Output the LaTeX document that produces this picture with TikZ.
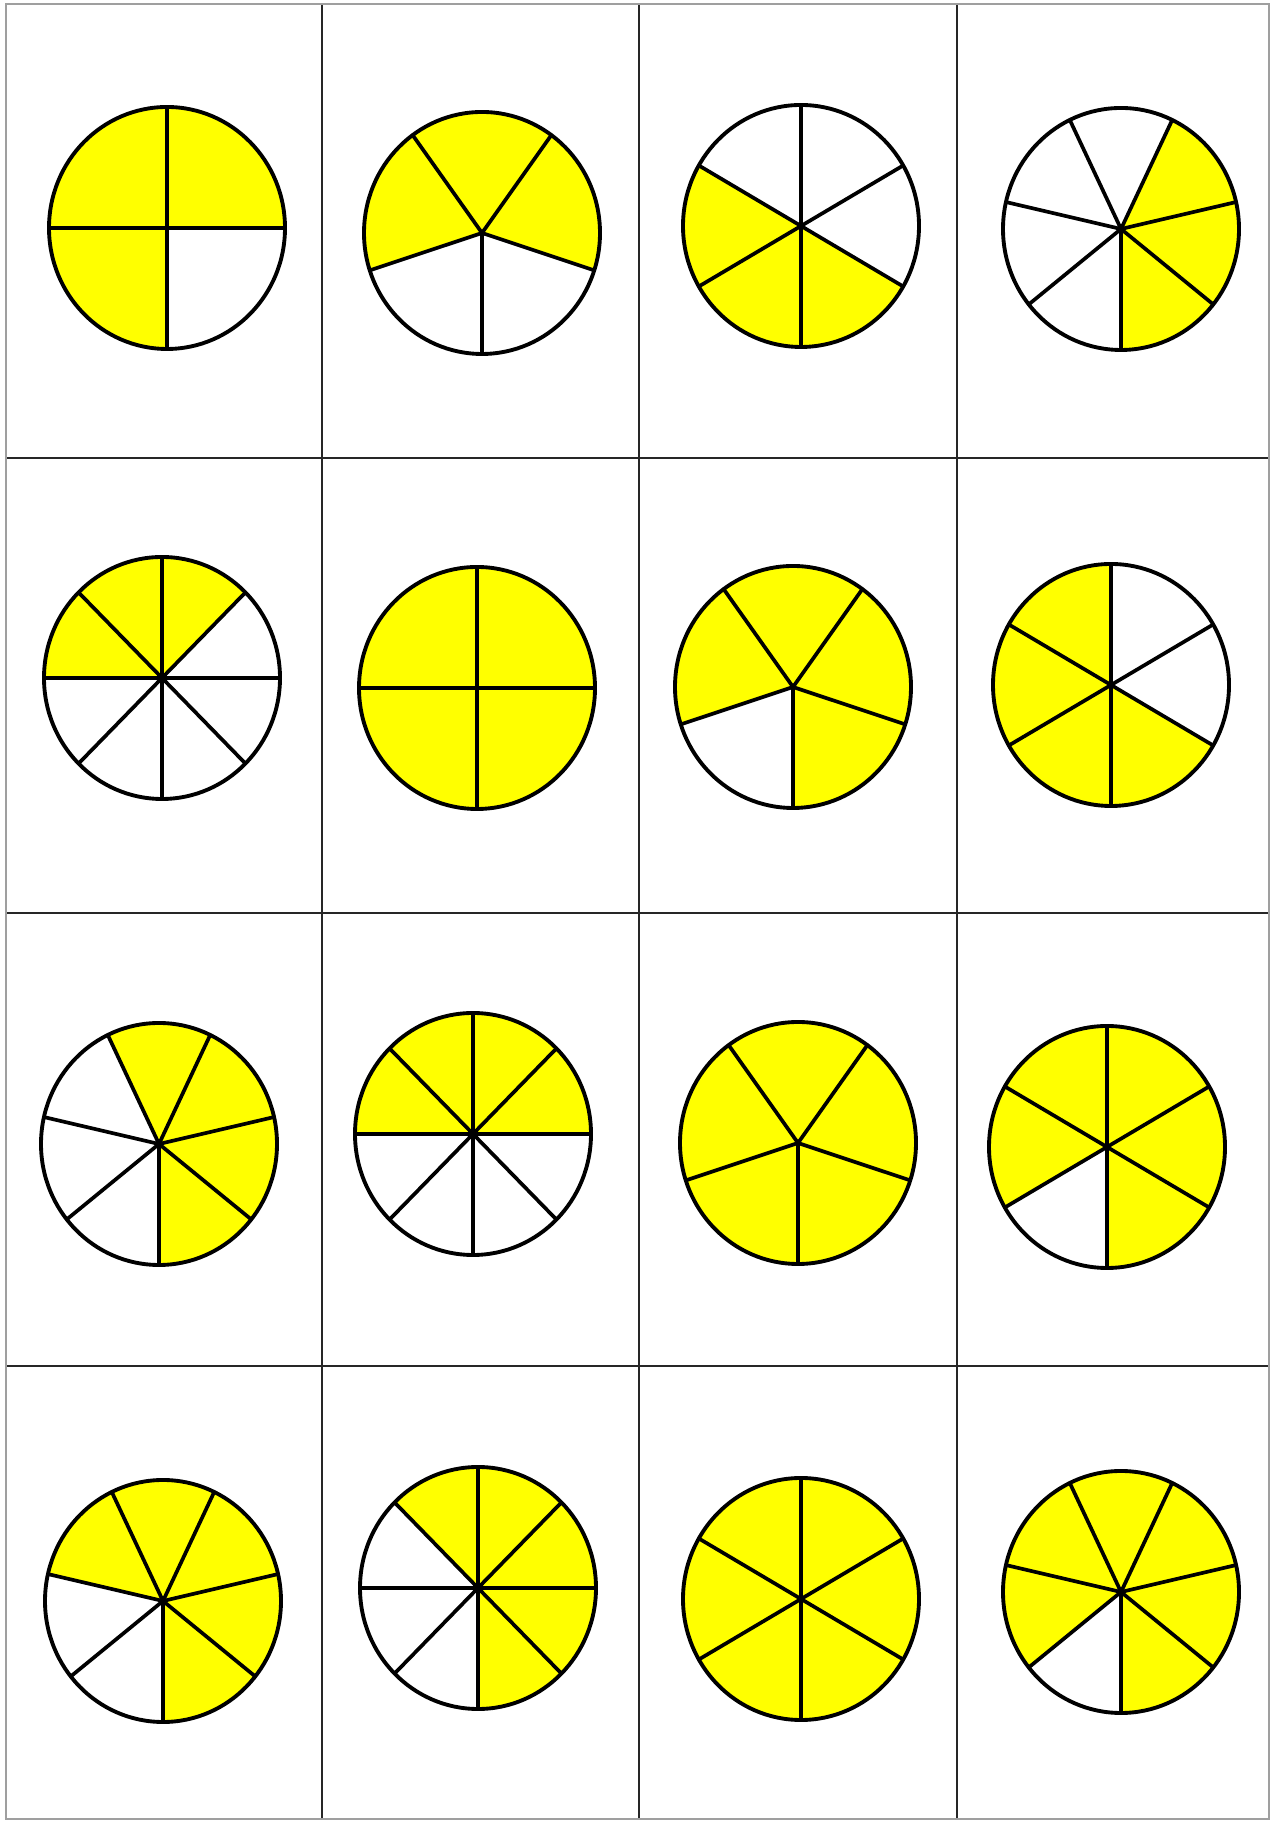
\documentclass[tikz,border=0pt]{standalone}
\definecolor{sliceyellow}{RGB}{255,255,0}
\begin{document}
\begin{tikzpicture}[
    x=0.02cm, y=0.02cm,
    frame/.style={line width=1.5pt, gray!75},
    gridline/.style={line width=1.2pt, black!85},
    rim/.style={line width=2.2pt, black},
    spoke/.style={line width=2.1pt, black, line cap=round},
    shaded/.style={fill=sliceyellow},
    ]

    \useasboundingbox (0,0) rectangle (1272,1821);

    \foreach \x in {322,639,957}{
    \draw[gridline] (\x,2) -- (\x,1817);
    }
    \foreach \y in {455,908,1363}{
    \draw[gridline] (6,\y) -- (1269,\y);
    }
    \draw[frame] (6,2) rectangle (1269,1817);

    \foreach \cx/\cy/\n/\first/\cnt in {
        167/1593/4/1/3, 482/1588/5/1/3, 801/1595/6/4/3, 1121/1592/7/0/3,
        162/1143/8/3/3, 477/1133/4/0/4, 793/1134/5/0/4, 1111/1136/6/3/4,
        159/677/7/0/4, 473/687/8/2/4, 798/678/5/0/5, 1107/674/6/0/5,
        163/220/7/0/5, 478/233/8/0/5, 801/222/6/0/6, 1121/229/7/0/6}{
    \coordinate (centre) at (\cx,\cy);
    \foreach \k in {1,...,\cnt}{
        \pgfmathsetmacro\a{270+(\first+\k-1)*360/\n}
        \fill[shaded] (centre) -- ++(\a:118 and 121)
            arc[start angle=\a, delta angle=360/\n, x radius=118, y radius=121]
            -- cycle;
    }
    \foreach \k in {1,...,\n}{
        \draw[spoke] (centre) -- ++({270+\k*360/\n}:118 and 121);
    }
    \draw[rim] (centre) circle[x radius=118, y radius=121];
    }

\end{tikzpicture}
\end{document}
